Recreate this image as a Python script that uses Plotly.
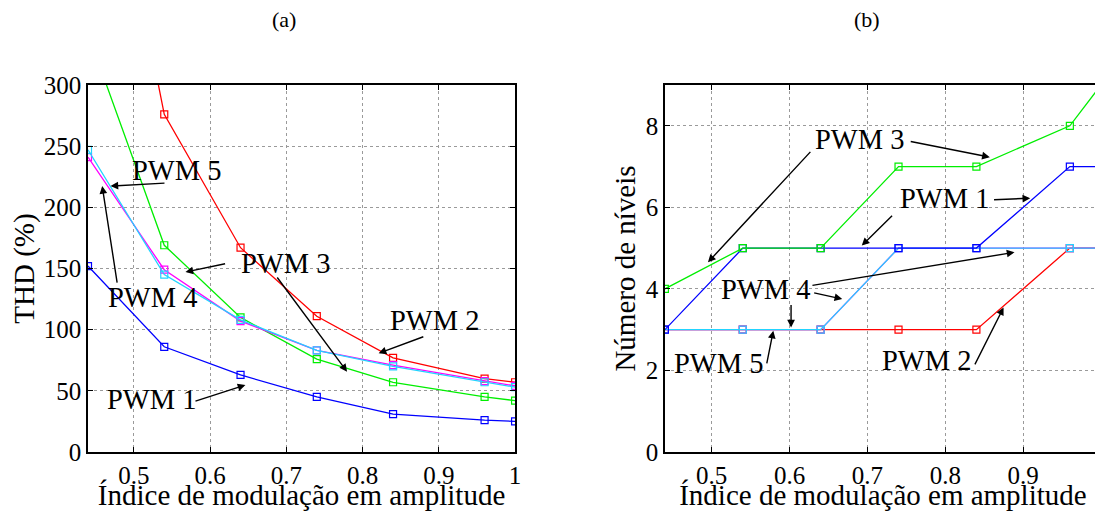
import plotly.graph_objects as go

# ---------------- data ----------------
m_index = [0.44, 0.54, 0.64, 0.74, 0.84, 0.96, 1.0]

# (a) THD (%)
thd_pwm1 = [152, 86, 63, 45, 31, 26, 25]
thd_pwm2 = [590, 276, 167, 111, 77, 60, 57]
thd_pwm3 = [342, 169, 110, 76, 57, 45, 42]
thd_pwm4 = [247, 145, 108, 83, 70, 57, 53]
thd_pwm5 = [241, 149, 107, 83, 71, 58, 54]

# (b) Número de níveis
lev_pwm1 = [3, 5, 5, 5, 5, 7, 7]
lev_pwm2 = [3, 3, 3, 3, 3, 5, 5]
lev_pwm3 = [4, 5, 5, 7, 7, 8, 9]
lev_pwm4 = [3, 3, 3, 5, 5, 5, 5]
lev_pwm5 = [3, 3, 3, 5, 5, 5, 5]

x_tickvals = [0.5, 0.6, 0.7, 0.8, 0.9, 1.0]
x_ticktext = ["0.5", "0.6", "0.7", "0.8", "0.9", "1"]
thd_ticks = [0, 50, 100, 150, 200, 250, 300]
lev_ticks = [0, 2, 4, 6, 8]

colors = {"PWM 1": "#0000ff", "PWM 2": "#ff0000", "PWM 3": "#00ee00",
          "PWM 4": "#22d4ff", "PWM 5": "#ff00ff"}

FONT = "Liberation Serif, Times New Roman, DejaVu Serif, serif"

# page is rendered with an 8px body margin: compensate
OFF = 8
W, H = 1103 - OFF, 511 - OFF
ML, MR, MT, MB = 88 - OFF, 2, 85 - OFF, 59
PW = W - ML - MR
PH = H - MT - MB

fig = go.Figure()

def add_series(x, y, name, xa, ya):
    fig.add_trace(go.Scatter(
        x=x, y=y, mode="lines+markers", name=name, xaxis=xa, yaxis=ya,
        line=dict(color=colors[name], width=1.3),
        marker=dict(symbol="square-open", size=7, color=colors[name],
                    line=dict(width=1.2, color=colors[name])),
        showlegend=False))

# panel (a) order
for name, ys in [("PWM 1", thd_pwm1), ("PWM 2", thd_pwm2), ("PWM 3", thd_pwm3),
                 ("PWM 5", thd_pwm5), ("PWM 4", thd_pwm4)]:
    add_series(m_index, ys, name, "x", "y")

# panel (b) order
for name, ys in [("PWM 2", lev_pwm2), ("PWM 5", lev_pwm5), ("PWM 4", lev_pwm4),
                 ("PWM 1", lev_pwm1), ("PWM 3", lev_pwm3)]:
    add_series(m_index, ys, name, "x2", "y2")

axis_common = dict(
    showline=True, linecolor="black", linewidth=1.5, mirror="ticks",
    ticks="inside", ticklen=5, tickcolor="black",
    showgrid=True, gridcolor="#9a9a9a", gridwidth=1, griddash="dot",
    zeroline=False, tickfont=dict(family=FONT, size=25, color="black"),
    ticklabeloverflow="allow",
)
TITLE_FONT = dict(family=FONT, size=29, color="black")

fig.update_layout(
    width=W, height=H,
    margin=dict(l=ML, r=MR, t=MT, b=MB, autoexpand=False),
    plot_bgcolor="white", paper_bgcolor="white",
    font=dict(family=FONT, color="black"),
    xaxis=dict(domain=[0, 0.4216], range=[0.44, 1.0], tickvals=x_tickvals,
               ticktext=x_ticktext, anchor="y", ticklabelstandoff=0,
               title=dict(text="Índice de modulação em amplitude",
                          font=TITLE_FONT, standoff=4),
               **axis_common),
    yaxis=dict(range=[0, 300], tickvals=thd_ticks, anchor="x",
               title=dict(text="THD (%)", font=TITLE_FONT, standoff=4),
               **axis_common),
    xaxis2=dict(domain=[0.5695, 1], range=[0.44, 1.0], tickvals=x_tickvals,
                ticktext=x_ticktext, anchor="y2", ticklabelstandoff=0,
                title=dict(text="Índice de modulação em amplitude",
                           font=TITLE_FONT, standoff=4),
                **axis_common),
    yaxis2=dict(range=[0, 9], tickvals=lev_ticks, anchor="x2",
                title=dict(text="Número de níveis", font=TITLE_FONT, standoff=2),
                **axis_common),
)

anns = []

def label(text, x, y, xr, yr):
    anns.append(dict(text=text, x=x, y=y, xref=xr, yref=yr, showarrow=False,
                     font=dict(family=FONT, size=28.5, color="black"),
                     xanchor="center", yanchor="middle"))

def arrow(tx, ty, hx, hy, xr, yr):
    anns.append(dict(text=" ", x=hx, y=hy, ax=tx, ay=ty, xref=xr, yref=yr,
                     axref=xr, ayref=yr, showarrow=True, arrowhead=2,
                     arrowsize=1.1, arrowwidth=1.4, arrowcolor="black",
                     standoff=0, startstandoff=0, font=dict(size=2)))

# panel (a)
label("PWM 5", 0.556, 230.5, "x", "y")
arrow(0.5429, 219.9, 0.4695, 217.4, "x", "y")
label("PWM 4", 0.5245, 126.7, "x", "y")
arrow(0.4787, 136.5, 0.4586, 217.4, "x", "y")
label("PWM 3", 0.6988, 154.5, "x", "y")
arrow(0.6224, 154.2, 0.5678, 147.1, "x", "y")
arrow(0.6857, 144.7, 0.7797, 65.6, "x", "y")
label("PWM 2", 0.8941, 107.1, "x", "y")
arrow(0.8823, 94.8, 0.8211, 80.7, "x", "y")
label("PWM 1", 0.5232, 43.3, "x", "y")
arrow(0.5783, 41.1, 0.6464, 54.8, "x", "y")

# panel (b)
label("PWM 3", 0.6895, 7.666, "x2", "y2")
arrow(0.6294, 7.413, 0.4953, 4.651, "x2", "y2")
arrow(0.7531, 7.624, 0.8572, 7.231, "x2", "y2")
label("PWM 1", 0.7996, 6.216, "x2", "y2")
arrow(0.8601, 6.184, 0.9091, 6.224, "x2", "y2")
arrow(0.7343, 5.840, 0.6928, 5.061, "x2", "y2")
label("PWM 4", 0.5689, 3.980, "x2", "y2")
arrow(0.6269, 4.079, 0.8889, 4.897, "x2", "y2")
arrow(0.6291, 3.914, 0.6677, 3.752, "x2", "y2")
arrow(0.602, 3.668, 0.602, 3.054, "x2", "y2")
label("PWM 5", 0.5083, 2.174, "x2", "y2")
arrow(0.5702, 2.113, 0.5792, 2.973, "x2", "y2")
label("PWM 2", 0.7764, 2.236, "x2", "y2")
arrow(0.8365, 2.088, 0.8749, 3.545, "x2", "y2")

# panel titles, placed from page pixel positions
def page_to_paper(px, py):
    fx, fy = px - OFF, py - OFF
    return (fx - ML) / PW, (H - MB - fy) / PH

for txt, px, py in [("(a)", 284, 20), ("(b)", 867, 20)]:
    xp, yp = page_to_paper(px, py)
    anns.append(dict(text=txt, x=xp, y=yp, xref="paper", yref="paper",
                     showarrow=False, xanchor="center", yanchor="middle",
                     font=dict(family=FONT, size=22, color="black")))

fig.update_layout(annotations=anns)
fig.write_html("out.html")
